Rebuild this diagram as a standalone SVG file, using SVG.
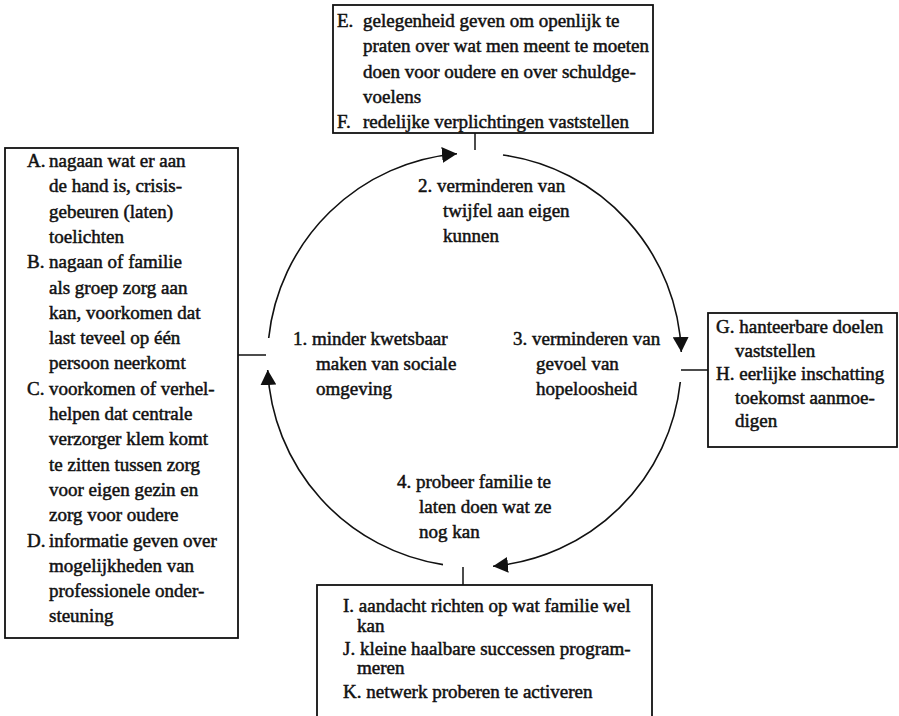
<svg xmlns="http://www.w3.org/2000/svg" width="899" height="716" viewBox="0 0 899 716">
  <style>
    text { font-family: "Liberation Serif", "Times New Roman", serif; font-size: 19px; font-weight: normal; fill: #111; stroke: #111; stroke-width: 0.5; }
    .box { fill: #fff; stroke: #111; stroke-width: 1.8; }
    .cycle { fill: none; stroke: #111; stroke-width: 1.6; }
    .tick { stroke: #111; stroke-width: 1.5; }
  </style>
  <defs>
    <marker id="head" viewBox="0 0 15 16" refX="15" refY="8" markerWidth="15" markerHeight="16" markerUnits="userSpaceOnUse" orient="auto">
      <path d="M0,0 L15,8 L0,16 z" fill="#111"/>
    </marker>
  </defs>
  <rect width="899" height="716" fill="#fff"/>

  <!-- cycle of four phases, clockwise, plus ticks to the boxes -->
  <g id="connectors">
    <path class="cycle" d="M268.7,338 A207,207 0 0 1 457,153.7" marker-end="url(#head)"/>
    <path class="cycle" d="M503,155 A207,207 0 0 1 681.3,352" marker-end="url(#head)"/>
    <path class="cycle" d="M680.3,382 A207,207 0 0 1 493,566.2" marker-end="url(#head)"/>
    <path class="cycle" d="M443,564.6 A207,207 0 0 1 267.7,370" marker-end="url(#head)"/>
    <line class="tick" x1="475" y1="133" x2="475" y2="150"/>
    <line class="tick" x1="238" y1="355" x2="266" y2="355"/>
    <line class="tick" x1="681" y1="370" x2="708" y2="370"/>
    <line class="tick" x1="463" y1="567" x2="463" y2="585"/>
  </g>

  <!-- phase labels inside the circle -->
  <g id="phase1">
    <text x="293" y="345">1. minder kwetsbaar</text>
    <text x="316" y="370">maken van sociale</text>
    <text x="316" y="395">omgeving</text>
  </g>
  <g id="phase2">
    <text x="418" y="192">2. verminderen van</text>
    <text x="443" y="217">twijfel aan eigen</text>
    <text x="443" y="242">kunnen</text>
  </g>
  <g id="phase3">
    <text x="513" y="345">3. verminderen van</text>
    <text x="536" y="370">gevoel van</text>
    <text x="536" y="395">hopeloosheid</text>
  </g>
  <g id="phase4">
    <text x="397" y="488">4. probeer familie te</text>
    <text x="419" y="513">laten doen wat ze</text>
    <text x="419" y="538">nog kan</text>
  </g>

  <!-- box E/F -->
  <g id="box-top">
    <rect class="box" x="333" y="5" width="320" height="128"/>
    <text x="337" y="27">E.</text>
    <text x="363" y="27">gelegenheid geven om openlijk te</text>
    <text x="363" y="52.3">praten over wat men meent te moeten</text>
    <text x="363" y="77.6">doen voor oudere en over schuldge-</text>
    <text x="363" y="102.9">voelens</text>
    <text x="337" y="128.2">F.</text>
    <text x="363" y="128.2">redelijke verplichtingen vaststellen</text>
  </g>

  <!-- box A-D -->
  <g id="box-left">
    <rect class="box" x="5" y="148" width="233" height="490"/>
    <text x="27" y="167">A.</text>
    <text x="49" y="167">nagaan wat er aan</text>
    <text x="49" y="192.3">de hand is, crisis-</text>
    <text x="49" y="217.6">gebeuren (laten)</text>
    <text x="49" y="242.9">toelichten</text>
    <text x="27" y="268.2">B.</text>
    <text x="49" y="268.2">nagaan of familie</text>
    <text x="49" y="293.5">als groep zorg aan</text>
    <text x="49" y="318.8">kan, voorkomen dat</text>
    <text x="49" y="344.1">last teveel op één</text>
    <text x="49" y="369.4">persoon neerkomt</text>
    <text x="27" y="394.7">C.</text>
    <text x="49" y="394.7">voorkomen of verhel-</text>
    <text x="49" y="420">helpen dat centrale</text>
    <text x="49" y="445.3">verzorger klem komt</text>
    <text x="49" y="470.6">te zitten tussen zorg</text>
    <text x="49" y="495.9">voor eigen gezin en</text>
    <text x="49" y="521.2">zorg voor oudere</text>
    <text x="27" y="546.5">D.</text>
    <text x="49" y="546.5">informatie geven over</text>
    <text x="49" y="571.8">mogelijkheden van</text>
    <text x="49" y="597.1">professionele onder-</text>
    <text x="49" y="622.4">steuning</text>
  </g>

  <!-- box G/H -->
  <g id="box-right">
    <rect class="box" x="708" y="313" width="189" height="134"/>
    <text x="716" y="333">G. hanteerbare doelen</text>
    <text x="735" y="356.5">vaststellen</text>
    <text x="716" y="380">H. eerlijke inschatting</text>
    <text x="735" y="403.5">toekomst aanmoe-</text>
    <text x="735" y="427">digen</text>
  </g>

  <!-- box I-K -->
  <g id="box-bottom">
    <rect class="box" x="317" y="585" width="335" height="134"/>
    <text x="343" y="612">I. aandacht richten op wat familie wel</text>
    <text x="357" y="632">kan</text>
    <text x="343" y="655">J. kleine haalbare successen program-</text>
    <text x="357" y="674">meren</text>
    <text x="343" y="698">K. netwerk proberen te activeren</text>
  </g>
</svg>
